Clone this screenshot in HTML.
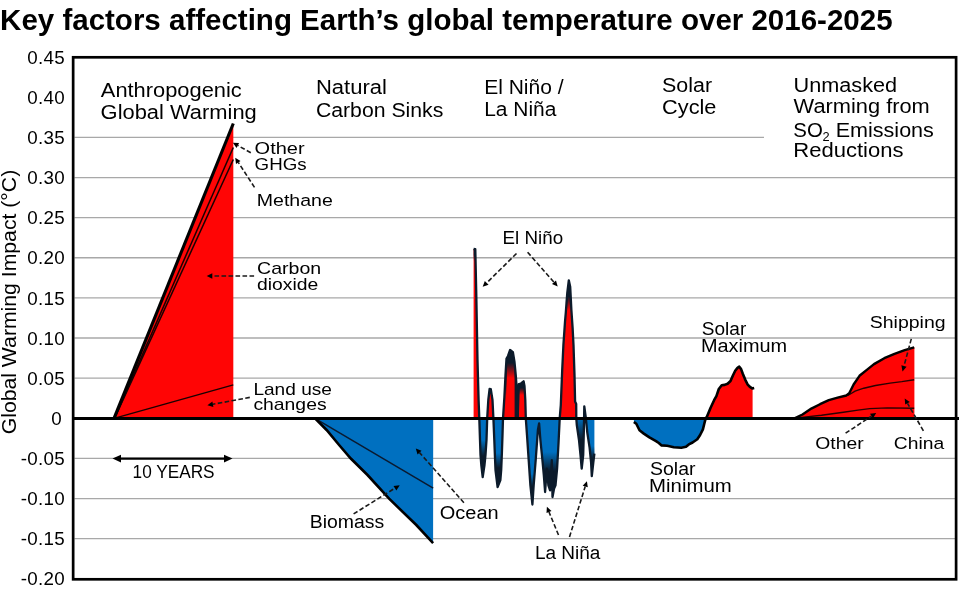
<!DOCTYPE html>
<html><head><meta charset="utf-8"><style>
html,body{margin:0;padding:0;background:#fff;width:959px;height:597px;overflow:hidden}
svg{display:block;font-family:"Liberation Sans", sans-serif;}
text{fill:#000}
</style></head><body>
<svg style="will-change:transform" width="959" height="597" viewBox="0 0 959 597">
<line x1="74.5" y1="137.40" x2="764" y2="137.40" stroke="#a8a8a8" stroke-width="1.3"/>
<line x1="74.5" y1="177.53" x2="955" y2="177.53" stroke="#a8a8a8" stroke-width="1.3"/>
<line x1="74.5" y1="217.65" x2="955" y2="217.65" stroke="#a8a8a8" stroke-width="1.3"/>
<line x1="74.5" y1="257.77" x2="955" y2="257.77" stroke="#a8a8a8" stroke-width="1.3"/>
<line x1="74.5" y1="297.90" x2="955" y2="297.90" stroke="#a8a8a8" stroke-width="1.3"/>
<line x1="74.5" y1="338.02" x2="955" y2="338.02" stroke="#a8a8a8" stroke-width="1.3"/>
<line x1="74.5" y1="378.15" x2="955" y2="378.15" stroke="#a8a8a8" stroke-width="1.3"/>
<line x1="74.5" y1="458.40" x2="955" y2="458.40" stroke="#a8a8a8" stroke-width="1.3"/>
<line x1="74.5" y1="498.53" x2="955" y2="498.53" stroke="#a8a8a8" stroke-width="1.3"/>
<line x1="74.5" y1="538.65" x2="955" y2="538.65" stroke="#a8a8a8" stroke-width="1.3"/>
<polygon points="114,418.4 233.3,123.5 233.3,418.4" fill="#ff0505"/>
<line x1="114.5" y1="418.4" x2="233.3" y2="147.5" stroke="#1a0000" stroke-width="1.5"/>
<line x1="114.5" y1="418.4" x2="233.3" y2="159.5" stroke="#1a0000" stroke-width="1.5"/>
<line x1="114" y1="418.4" x2="233.3" y2="384.8" stroke="#1a0000" stroke-width="1.3"/>
<line x1="114" y1="418.4" x2="233.3" y2="123.5" stroke="#000" stroke-width="3.1" stroke-linecap="butt"/>
<polygon points="315,418.4 326.6,430 339.1,445 350.8,458.5 367.5,475 389.1,498.7 416.3,525 433.1,543.1 433.2,418.4" fill="#0070c0"/>
<line x1="315" y1="418.4" x2="433.2" y2="488.1" stroke="#0a1a30" stroke-width="1.5"/>
<polyline points="315,418.4 326.6,430 339.1,445 350.8,458.5 367.5,475 389.1,498.7 416.3,525 433.1,543.1" fill="none" stroke="#000" stroke-width="2.6"/>
<defs><clipPath id="above"><rect x="0" y="0" width="959" height="418.4"/></clipPath><clipPath id="below"><rect x="0" y="418.4" width="959" height="200"/></clipPath></defs>
<polygon points="473.6,249 475.3,249.2 476.2,290 477.5,360 478.6,400 479.3,418.4 480,440 480.5,455 481.3,465 482.7,477 484.5,465 485.5,455 486.5,440 487.2,418.4 488.3,400 489.6,389 490.8,389.2 492.5,400 493.4,418.4 494.3,440 494.8,453 495.5,470 497.6,487 500.4,480 501.2,470 501.9,453 502.5,435 503,418.4 504.4,397 505.5,375 506.5,358.5 508,356 510.1,350 512.9,352.1 514.5,362 515.8,375.6 517.2,395 517.8,414 518.4,395 518.8,384 521,383.5 523.6,381.3 524.5,386 525.3,400 525.8,418.4 527,435.1 528.7,460.2 530.4,485.3 532.4,504.5 533.7,485 535.7,460 537.9,430 539.1,423.4 540.4,440 542.4,460 543.8,475 545.1,492 546.8,468.6 548.4,485.3 550.1,490.3 551.8,460.2 552.5,497 554.1,488.6 555.5,485.3 557.1,468.6 558.5,443.5 559.7,418.4 560.8,405 562.2,370 563.4,345 565,321.9 565.8,312.5 566.5,303.1 567.3,292.6 568.8,280.3 570.2,286.7 570.8,298.4 571.4,310.2 572.6,327.7 573.5,345 574.5,375 575.1,401.6 576.2,404 576.3,418.4 576.8,425.1 579,440.1 580.5,455.2 581.7,468.7 583.2,455.2 583.8,432.6 584.3,406.3 585.8,417.6 587.3,432.6 589.6,447.7 591.1,462.7 591.8,476.2 593.3,462.7 594.4,453.7 594.4,418.4 473.6,418.4" fill="#ff0505" clip-path="url(#above)"/>
<polygon points="473.6,249 475.3,249.2 476.2,290 477.5,360 478.6,400 479.3,418.4 480,440 480.5,455 481.3,465 482.7,477 484.5,465 485.5,455 486.5,440 487.2,418.4 488.3,400 489.6,389 490.8,389.2 492.5,400 493.4,418.4 494.3,440 494.8,453 495.5,470 497.6,487 500.4,480 501.2,470 501.9,453 502.5,435 503,418.4 504.4,397 505.5,375 506.5,358.5 508,356 510.1,350 512.9,352.1 514.5,362 515.8,375.6 517.2,395 517.8,414 518.4,395 518.8,384 521,383.5 523.6,381.3 524.5,386 525.3,400 525.8,418.4 527,435.1 528.7,460.2 530.4,485.3 532.4,504.5 533.7,485 535.7,460 537.9,430 539.1,423.4 540.4,440 542.4,460 543.8,475 545.1,492 546.8,468.6 548.4,485.3 550.1,490.3 551.8,460.2 552.5,497 554.1,488.6 555.5,485.3 557.1,468.6 558.5,443.5 559.7,418.4 560.8,405 562.2,370 563.4,345 565,321.9 565.8,312.5 566.5,303.1 567.3,292.6 568.8,280.3 570.2,286.7 570.8,298.4 571.4,310.2 572.6,327.7 573.5,345 574.5,375 575.1,401.6 576.2,404 576.3,418.4 576.8,425.1 579,440.1 580.5,455.2 581.7,468.7 583.2,455.2 583.8,432.6 584.3,406.3 585.8,417.6 587.3,432.6 589.6,447.7 591.1,462.7 591.8,476.2 593.3,462.7 594.4,453.7 594.4,418.4 473.6,418.4" fill="#0070c0" clip-path="url(#below)"/>
<clipPath id="ensoShape"><polygon points="473.6,249 475.3,249.2 476.2,290 477.5,360 478.6,400 479.3,418.4 480,440 480.5,455 481.3,465 482.7,477 484.5,465 485.5,455 486.5,440 487.2,418.4 488.3,400 489.6,389 490.8,389.2 492.5,400 493.4,418.4 494.3,440 494.8,453 495.5,470 497.6,487 500.4,480 501.2,470 501.9,453 502.5,435 503,418.4 504.4,397 505.5,375 506.5,358.5 508,356 510.1,350 512.9,352.1 514.5,362 515.8,375.6 517.2,395 517.8,414 518.4,395 518.8,384 521,383.5 523.6,381.3 524.5,386 525.3,400 525.8,418.4 527,435.1 528.7,460.2 530.4,485.3 532.4,504.5 533.7,485 535.7,460 537.9,430 539.1,423.4 540.4,440 542.4,460 543.8,475 545.1,492 546.8,468.6 548.4,485.3 550.1,490.3 551.8,460.2 552.5,497 554.1,488.6 555.5,485.3 557.1,468.6 558.5,443.5 559.7,418.4 560.8,405 562.2,370 563.4,345 565,321.9 565.8,312.5 566.5,303.1 567.3,292.6 568.8,280.3 570.2,286.7 570.8,298.4 571.4,310.2 572.6,327.7 573.5,345 574.5,375 575.1,401.6 576.2,404 576.3,418.4 576.8,425.1 579,440.1 580.5,455.2 581.7,468.7 583.2,455.2 583.8,432.6 584.3,406.3 585.8,417.6 587.3,432.6 589.6,447.7 591.1,462.7 591.8,476.2 593.3,462.7 594.4,453.7 594.4,418.4 473.6,418.4"/></clipPath>
<linearGradient id="gDown" x1="0" y1="0" x2="0" y2="1"><stop offset="0" stop-color="#0c1b2b" stop-opacity="0"/><stop offset="0.4" stop-color="#0c1b2b" stop-opacity="1"/></linearGradient>
<linearGradient id="gUp" x1="0" y1="0" x2="0" y2="1"><stop offset="0.6" stop-color="#0c1b2b" stop-opacity="1"/><stop offset="1" stop-color="#0c1b2b" stop-opacity="0"/></linearGradient>
<g clip-path="url(#ensoShape)"><rect x="503" y="340" width="14" height="38" fill="url(#gUp)"/><rect x="518" y="377" width="8" height="18" fill="url(#gUp)"/><rect x="477" y="440" width="12" height="40" fill="url(#gDown)"/><rect x="492" y="453" width="12" height="37" fill="url(#gDown)"/><rect x="525" y="474" width="12" height="33" fill="url(#gDown)"/><rect x="542" y="452" width="17" height="48" fill="url(#gDown)"/><rect x="562" y="276" width="13" height="34" fill="url(#gUp)"/><rect x="514.6" y="355" width="4.4" height="64" fill="#0c1b2b"/><rect x="503" y="352" width="3.6" height="44" fill="url(#gUp)"/><rect x="576" y="418" width="9" height="54" fill="url(#gDown)"/><rect x="587" y="446" width="8" height="32" fill="url(#gDown)"/><rect x="472" y="245" width="6" height="16" fill="url(#gUp)"/></g>
<polyline points="473.6,249 475.3,249.2 476.2,290 477.5,360 478.6,400 479.3,418.4 480,440 480.5,455 481.3,465 482.7,477 484.5,465 485.5,455 486.5,440 487.2,418.4 488.3,400 489.6,389 490.8,389.2 492.5,400 493.4,418.4 494.3,440 494.8,453 495.5,470 497.6,487 500.4,480 501.2,470 501.9,453 502.5,435 503,418.4 504.4,397 505.5,375 506.5,358.5 508,356 510.1,350 512.9,352.1 514.5,362 515.8,375.6 517.2,395 517.8,414 518.4,395 518.8,384 521,383.5 523.6,381.3 524.5,386 525.3,400 525.8,418.4 527,435.1 528.7,460.2 530.4,485.3 532.4,504.5 533.7,485 535.7,460 537.9,430 539.1,423.4 540.4,440 542.4,460 543.8,475 545.1,492 546.8,468.6 548.4,485.3 550.1,490.3 551.8,460.2 552.5,497 554.1,488.6 555.5,485.3 557.1,468.6 558.5,443.5 559.7,418.4 560.8,405 562.2,370 563.4,345 565,321.9 565.8,312.5 566.5,303.1 567.3,292.6 568.8,280.3 570.2,286.7 570.8,298.4 571.4,310.2 572.6,327.7 573.5,345 574.5,375 575.1,401.6 576.2,404 576.3,418.4 576.8,425.1 579,440.1 580.5,455.2 581.7,468.7 583.2,455.2 583.8,432.6 584.3,406.3 585.8,417.6 587.3,432.6 589.6,447.7 591.1,462.7 591.8,476.2 593.3,462.7 594.4,453.7" fill="none" stroke="#0c1b2b" stroke-width="2.3" stroke-linejoin="round"/>
<polygon points="633.9,421.9 636.3,423.8 639.5,430.3 643.8,433.6 649.4,437.4 656,441.1 658.8,443 661.6,445.4 667.2,445.8 673.8,447.2 681.3,447.7 686,446.8 688.8,444.4 692.6,442.5 697.3,439.3 700.1,435 702.9,429.4 704.3,423.8 705.7,418.1 707,416.6 710.6,407.8 714.1,400.2 716.4,396.1 718.8,389 721.7,385.3 724.6,384.9 727.6,383.7 730.5,381 732.9,375.5 735.2,370.8 737.5,367.9 739.3,366.7 741.1,369.1 742.8,373.8 745.2,379.6 747.5,384.3 749.9,386.9 752.2,388.4 752.6,388.3 752.6,418.4 633.9,418.4" fill="#ff0505" clip-path="url(#above)"/>
<polygon points="633.9,421.9 636.3,423.8 639.5,430.3 643.8,433.6 649.4,437.4 656,441.1 658.8,443 661.6,445.4 667.2,445.8 673.8,447.2 681.3,447.7 686,446.8 688.8,444.4 692.6,442.5 697.3,439.3 700.1,435 702.9,429.4 704.3,423.8 705.7,418.1 707,416.6 710.6,407.8 714.1,400.2 716.4,396.1 718.8,389 721.7,385.3 724.6,384.9 727.6,383.7 730.5,381 732.9,375.5 735.2,370.8 737.5,367.9 739.3,366.7 741.1,369.1 742.8,373.8 745.2,379.6 747.5,384.3 749.9,386.9 752.2,388.4 752.6,388.3 752.6,418.4 633.9,418.4" fill="#0070c0" clip-path="url(#below)"/>
<polyline points="633.9,421.9 636.3,423.8 639.5,430.3 643.8,433.6 649.4,437.4 656,441.1 658.8,443 661.6,445.4 667.2,445.8 673.8,447.2 681.3,447.7 686,446.8 688.8,444.4 692.6,442.5 697.3,439.3 700.1,435 702.9,429.4 704.3,423.8 705.7,418.1 707,416.6 710.6,407.8 714.1,400.2 716.4,396.1 718.8,389 721.7,385.3 724.6,384.9 727.6,383.7 730.5,381 732.9,375.5 735.2,370.8 737.5,367.9 739.3,366.7 741.1,369.1 742.8,373.8 745.2,379.6 747.5,384.3 749.9,386.9 752.2,388.4 754.2,387.9" fill="none" stroke="#000" stroke-width="2.6" stroke-linejoin="round"/>
<polygon points="794.5,418.4 802.5,414.5 811.3,408.6 820,404.2 828.8,400.1 837.6,397.7 846.3,395.5 849.2,393.3 853.6,384.5 859.5,375.8 866.8,369.9 874,364.1 884.3,358.2 894.5,353.9 904.7,350.2 914.2,347.3 914.4,347.3 914.4,418.4" fill="#ff0505"/>
<polyline points="847.8,395.5 855.1,391.1 863.8,388.2 875.5,385.5 890.1,383.1 901.8,381.6 914.2,379.7" fill="none" stroke="#2a0000" stroke-width="1.4"/>
<polyline points="799.6,417.6 821.5,415.2 843.4,412.3 858,410.1 869.7,408.6 887.2,407.9 914.2,408.3" fill="none" stroke="#2a0000" stroke-width="1.4"/>
<polyline points="794.5,418.4 802.5,414.5 811.3,408.6 820,404.2 828.8,400.1 837.6,397.7 846.3,395.5 849.2,393.3 853.6,384.5 859.5,375.8 866.8,369.9 874,364.1 884.3,358.2 894.5,353.9 904.7,350.2 914.2,347.3" fill="none" stroke="#000" stroke-width="2.4" stroke-linejoin="round"/>
<line x1="72" y1="418.4" x2="959" y2="418.4" stroke="#000" stroke-width="3"/>
<rect x="73.15" y="57.3" width="882.95" height="522" fill="none" stroke="#000" stroke-width="2.7"/>
<line x1="250.8" y1="152.7" x2="237.8" y2="145.5" stroke="#1a1a1a" stroke-width="1.6" stroke-dasharray="4.6 2.4"/>
<polygon points="232.9,142.8 239.1,143.1 236.5,147.9" fill="#000"/>
<line x1="254.5" y1="187.4" x2="238.3" y2="162.4" stroke="#1a1a1a" stroke-width="1.6" stroke-dasharray="4.6 2.4"/>
<polygon points="235.2,157.7 240.5,160.9 236.0,163.9" fill="#000"/>
<line x1="254.1" y1="276.0" x2="212.3" y2="276.0" stroke="#1a1a1a" stroke-width="1.6" stroke-dasharray="4.6 2.4"/>
<polygon points="206.7,276.0 212.3,273.3 212.3,278.7" fill="#000"/>
<line x1="249.8" y1="397.4" x2="212.9" y2="404.3" stroke="#1a1a1a" stroke-width="1.6" stroke-dasharray="4.6 2.4"/>
<polygon points="207.4,405.3 212.4,401.6 213.4,406.9" fill="#000"/>
<line x1="463.9" y1="502.7" x2="419.5" y2="452.6" stroke="#1a1a1a" stroke-width="1.6" stroke-dasharray="4.6 2.4"/>
<polygon points="415.8,448.4 421.5,450.8 417.5,454.4" fill="#000"/>
<line x1="353.6" y1="513.9" x2="394.9" y2="488.2" stroke="#1a1a1a" stroke-width="1.6" stroke-dasharray="4.6 2.4"/>
<polygon points="399.7,485.2 396.4,490.5 393.5,485.9" fill="#000"/>
<line x1="516.5" y1="253.5" x2="486.7" y2="282.9" stroke="#1a1a1a" stroke-width="1.6" stroke-dasharray="4.6 2.4"/>
<polygon points="482.7,286.8 484.8,280.9 488.6,284.8" fill="#000"/>
<line x1="527.6" y1="252.2" x2="554.0" y2="282.2" stroke="#1a1a1a" stroke-width="1.6" stroke-dasharray="4.6 2.4"/>
<polygon points="557.7,286.4 552.0,284.0 556.0,280.4" fill="#000"/>
<line x1="558.5" y1="535.0" x2="549.0" y2="512.0" stroke="#1a1a1a" stroke-width="1.6" stroke-dasharray="4.6 2.4"/>
<polygon points="546.9,506.8 551.5,511.0 546.5,513.0" fill="#000"/>
<line x1="569.5" y1="537.0" x2="585.2" y2="486.5" stroke="#1a1a1a" stroke-width="1.6" stroke-dasharray="4.6 2.4"/>
<polygon points="586.9,481.2 587.8,487.3 582.7,485.7" fill="#000"/>
<line x1="911.3" y1="338.9" x2="904.0" y2="366.0" stroke="#1a1a1a" stroke-width="1.6" stroke-dasharray="4.6 2.4"/>
<polygon points="902.5,371.4 901.4,365.3 906.6,366.7" fill="#000"/>
<line x1="923.4" y1="430.8" x2="907.5" y2="403.3" stroke="#1a1a1a" stroke-width="1.6" stroke-dasharray="4.6 2.4"/>
<polygon points="904.7,398.4 909.8,401.9 905.2,404.6" fill="#000"/>
<line x1="845.6" y1="433.2" x2="871.5" y2="416.1" stroke="#1a1a1a" stroke-width="1.6" stroke-dasharray="4.6 2.4"/>
<polygon points="876.2,413.0 873.0,418.3 870.0,413.8" fill="#000"/>
<line x1="118" y1="458.6" x2="227" y2="458.6" stroke="#000" stroke-width="2.4"/>
<polygon points="112.5,458.6 121,454.8 121,462.4" fill="#000"/>
<polygon points="232.5,458.6 224,454.8 224,462.4" fill="#000"/>
<text x="0.1" y="29.5" font-size="29.5" font-weight="bold" text-anchor="start">Key factors affecting Earth’s global temperature over 2016-2025</text>
<text x="65" y="63.75" font-size="18.8" font-weight="normal" text-anchor="end" letter-spacing="0.3">0.45</text>
<text x="65" y="103.87" font-size="18.8" font-weight="normal" text-anchor="end" letter-spacing="0.3">0.40</text>
<text x="65" y="144.0" font-size="18.8" font-weight="normal" text-anchor="end" letter-spacing="0.3">0.35</text>
<text x="65" y="184.12" font-size="18.8" font-weight="normal" text-anchor="end" letter-spacing="0.3">0.30</text>
<text x="65" y="224.25" font-size="18.8" font-weight="normal" text-anchor="end" letter-spacing="0.3">0.25</text>
<text x="65" y="264.38" font-size="18.8" font-weight="normal" text-anchor="end" letter-spacing="0.3">0.20</text>
<text x="65" y="304.5" font-size="18.8" font-weight="normal" text-anchor="end" letter-spacing="0.3">0.15</text>
<text x="65" y="344.62" font-size="18.8" font-weight="normal" text-anchor="end" letter-spacing="0.3">0.10</text>
<text x="65" y="384.75" font-size="18.8" font-weight="normal" text-anchor="end" letter-spacing="0.3">0.05</text>
<text x="65" y="465.0" font-size="18.8" font-weight="normal" text-anchor="end" letter-spacing="0.3">-0.05</text>
<text x="65" y="505.13" font-size="18.8" font-weight="normal" text-anchor="end" letter-spacing="0.3">-0.10</text>
<text x="65" y="545.25" font-size="18.8" font-weight="normal" text-anchor="end" letter-spacing="0.3">-0.15</text>
<text x="65" y="585.38" font-size="18.8" font-weight="normal" text-anchor="end" letter-spacing="0.3">-0.20</text>
<text x="61.7" y="424.88" font-size="18.8" font-weight="normal" text-anchor="end">0</text>
<text transform="translate(16.1,434.3) rotate(-90)" x="0" y="0" font-size="20.5" textLength="264.5" lengthAdjust="spacingAndGlyphs">Global Warming Impact (°C)</text>
<text x="100.8" y="96.5" font-size="20" font-weight="normal" text-anchor="start" textLength="141" lengthAdjust="spacingAndGlyphs">Anthropogenic</text>
<text x="100.6" y="118.7" font-size="20" font-weight="normal" text-anchor="start" textLength="156.2" lengthAdjust="spacingAndGlyphs">Global Warming</text>
<text x="315.9" y="94.4" font-size="20" font-weight="normal" text-anchor="start" textLength="71" lengthAdjust="spacingAndGlyphs">Natural</text>
<text x="315.9" y="116.9" font-size="20" font-weight="normal" text-anchor="start" textLength="127.4" lengthAdjust="spacingAndGlyphs">Carbon Sinks</text>
<text x="484.2" y="93.8" font-size="20" font-weight="normal" text-anchor="start" textLength="79.4" lengthAdjust="spacingAndGlyphs">El Niño /</text>
<text x="484.2" y="116.3" font-size="20" font-weight="normal" text-anchor="start" textLength="72.2" lengthAdjust="spacingAndGlyphs">La Niña</text>
<text x="662.1" y="92.2" font-size="20" font-weight="normal" text-anchor="start" textLength="50" lengthAdjust="spacingAndGlyphs">Solar</text>
<text x="662.1" y="114.1" font-size="20" font-weight="normal" text-anchor="start" textLength="54.3" lengthAdjust="spacingAndGlyphs">Cycle</text>
<text x="793.6" y="91.5" font-size="20" font-weight="normal" text-anchor="start" textLength="103.5" lengthAdjust="spacingAndGlyphs">Unmasked</text>
<text x="793.6" y="113.4" font-size="20" font-weight="normal" text-anchor="start" textLength="136.2" lengthAdjust="spacingAndGlyphs">Warming from</text>
<text x="793.3" y="136.5" font-size="20" font-weight="normal" text-anchor="start" textLength="29.5" lengthAdjust="spacingAndGlyphs">SO</text>
<text x="822.6" y="141.3" font-size="12.8" font-weight="normal" text-anchor="start">2</text>
<text x="835.7" y="136.5" font-size="20" font-weight="normal" text-anchor="start" textLength="98.2" lengthAdjust="spacingAndGlyphs">Emissions</text>
<text x="793.3" y="156.9" font-size="20" font-weight="normal" text-anchor="start" textLength="110.2" lengthAdjust="spacingAndGlyphs">Reductions</text>
<text x="254.6" y="154.4" font-size="17.4" font-weight="normal" text-anchor="start" textLength="50" lengthAdjust="spacingAndGlyphs">Other</text>
<text x="254.6" y="170.1" font-size="17.4" font-weight="normal" text-anchor="start" textLength="52" lengthAdjust="spacingAndGlyphs">GHGs</text>
<text x="256.8" y="206.1" font-size="17.4" font-weight="normal" text-anchor="start" textLength="76" lengthAdjust="spacingAndGlyphs">Methane</text>
<text x="257" y="274.1" font-size="17" font-weight="normal" text-anchor="start" textLength="64.2" lengthAdjust="spacingAndGlyphs">Carbon</text>
<text x="257" y="290.1" font-size="17" font-weight="normal" text-anchor="start" textLength="61.3" lengthAdjust="spacingAndGlyphs">dioxide</text>
<text x="253.4" y="394.7" font-size="17" font-weight="normal" text-anchor="start" textLength="78.5" lengthAdjust="spacingAndGlyphs">Land use</text>
<text x="253.4" y="409.5" font-size="17" font-weight="normal" text-anchor="start" textLength="73.2" lengthAdjust="spacingAndGlyphs">changes</text>
<text x="132.6" y="478.2" font-size="18" font-weight="normal" text-anchor="start" textLength="82" lengthAdjust="spacingAndGlyphs">10 YEARS</text>
<text x="309.8" y="528.1" font-size="18" font-weight="normal" text-anchor="start" textLength="74.5" lengthAdjust="spacingAndGlyphs">Biomass</text>
<text x="439.8" y="519.2" font-size="18" font-weight="normal" text-anchor="start" textLength="58.8" lengthAdjust="spacingAndGlyphs">Ocean</text>
<text x="502.6" y="244.1" font-size="18.4" font-weight="normal" text-anchor="start" textLength="60.5" lengthAdjust="spacingAndGlyphs">El Niño</text>
<text x="534.9" y="558.7" font-size="18" font-weight="normal" text-anchor="start" textLength="65.5" lengthAdjust="spacingAndGlyphs">La Niña</text>
<text x="701.8" y="334.8" font-size="17.5" font-weight="normal" text-anchor="start" textLength="44.5" lengthAdjust="spacingAndGlyphs">Solar</text>
<text x="700.9" y="352.3" font-size="17.5" font-weight="normal" text-anchor="start" textLength="86.3" lengthAdjust="spacingAndGlyphs">Maximum</text>
<text x="650.0" y="474.8" font-size="17.5" font-weight="normal" text-anchor="start" textLength="45.5" lengthAdjust="spacingAndGlyphs">Solar</text>
<text x="649.1" y="492" font-size="17.5" font-weight="normal" text-anchor="start" textLength="82.6" lengthAdjust="spacingAndGlyphs">Minimum</text>
<text x="869.8" y="328.1" font-size="16.7" font-weight="normal" text-anchor="start" textLength="75.8" lengthAdjust="spacingAndGlyphs">Shipping</text>
<text x="815.3" y="448.7" font-size="17.4" font-weight="normal" text-anchor="start" textLength="48.4" lengthAdjust="spacingAndGlyphs">Other</text>
<text x="893.8" y="448.7" font-size="17.4" font-weight="normal" text-anchor="start" textLength="50.4" lengthAdjust="spacingAndGlyphs">China</text>
</svg>
</body></html>
